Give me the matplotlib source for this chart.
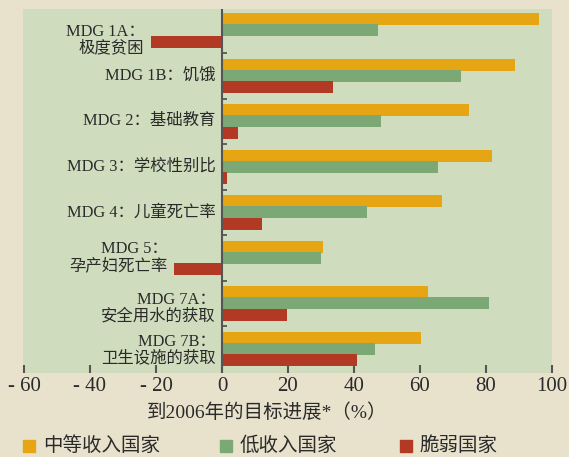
import matplotlib
matplotlib.use("Agg")
import matplotlib.pyplot as plt
import matplotlib.patches as mpatches
import numpy as np

plt.rcParams['font.family'] = ['Liberation Serif', 'Noto Sans CJK SC', 'DejaVu Sans']

categories = ["MDG 1A：\n极度贫困", "MDG 1B：饥饿", "MDG 2：基础教育", "MDG 3：学校性别比",
              "MDG 4：儿童死亡率", "MDG 5：\n孕产妇死亡率", "MDG 7A：\n安全用水的获取",
              "MDG 7B：\n卫生设施的获取"]
middle_income = [96.1, 88.8, 74.8, 81.8, 66.7, 30.6, 62.4, 60.3]
low_income = [47.3, 72.4, 48.2, 65.5, 43.9, 30.0, 80.9, 46.4]
fragile = [-21.5, 33.6, 4.8, 1.5, 12.1, -14.5, 19.7, 40.9]
series_names = ["中等收入国家", "低收入国家", "脆弱国家"]
xticks = [-60, -40, -20, 0, 20, 40, 60, 80, 100]
xtick_labels = ["- 60", "- 40", "- 20", "0", "20", "40", "60", "80", "100"]
xlabel = "到2006年的目标进展*（%）"

colors = ["#E6A512", "#7BA874", "#B23A24"]
bg_outer = "#E8E2CC"
bg_plot = "#CFDCBD"
text_color = "#2A2A2A"
label_dy = [0.21, 0, 0, 0, 0, 0, 0.1, 0.03]

W, H = 569, 457
fig = plt.figure(figsize=(W / 100, H / 100), dpi=100, facecolor=bg_outer)
ax = fig.add_axes([23 / W, (H - 373) / H, 529 / W, 364 / H])
ax.set_facecolor(bg_plot)

y = np.arange(len(categories))
h = 0.26
offs = [-0.245, 0.0, 0.25]
for vals, off, c in zip([middle_income, low_income, fragile], offs, colors):
    ax.barh(y + off, vals, height=h, color=c, edgecolor='none', zorder=2)

ax.set_xlim(-60.3, 100)
ax.set_ylim(len(categories) - 0.5 + 0.03, -0.5 + 0.03)

for s in ax.spines.values():
    s.set_visible(False)

ax.axvline(0, color="#555555", lw=1.5, zorder=3)
for b in np.arange(0.5, len(categories) - 0.5, 1.0):
    ax.plot([0, 1.4], [b, b], color="#555555", lw=1.3, zorder=3, solid_capstyle='butt')

ax.set_yticks([])
ax.set_xticks(xticks)
ax.set_xticklabels(xtick_labels, fontsize=15)
ax.tick_params(axis='x', direction='in', length=6, width=1.5, color="#555555", pad=3,
               labelcolor=text_color)

for i, (cat, fv) in enumerate(zip(categories, fragile)):
    xpos = min(0, fv) - 2.0
    ax.text(xpos, i + label_dy[i], cat, ha='right', va='center', fontsize=11.8,
            color=text_color, linespacing=1.08, multialignment='right')

fig.text(267 / W, 1 - 413 / H, xlabel, ha='center', va='center', fontsize=14, color=text_color)

leg_x = [23, 220, 400]
for name, c, lx in zip(series_names, colors, leg_x):
    fig.patches.append(mpatches.Rectangle((lx / W, 1 - 452 / H), 12 / W, 12 / H,
                                          transform=fig.transFigure, color=c))
    fig.text((lx + 20) / W, 1 - 446 / H, name, ha='left', va='center', fontsize=14,
             color=text_color)

fig.savefig("out.png", dpi=100, facecolor=bg_outer)
